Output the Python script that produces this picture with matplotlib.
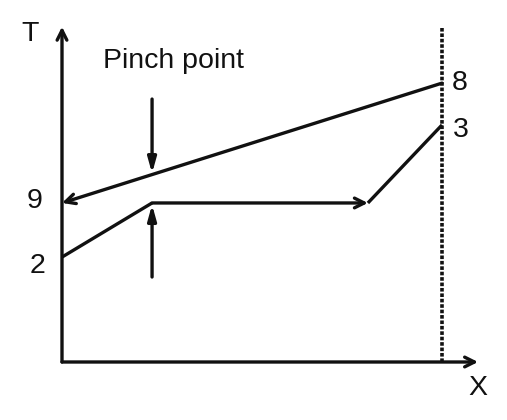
import matplotlib.pyplot as plt

# schematic T-X diagram, x runs 0..1 along the axis, T in arbitrary units
x_hot = [0.0, 1.0]
t_hot = [47.9, 84.0]          # point 9 -> point 8
x_cold = [0.0, 0.237, 0.805, 1.0]
t_cold = [31.6, 47.9, 47.9, 71.4]   # point 2 -> pinch -> arrow end -> point 3
x_pinch = 0.237
pinch_down = (79.2, 56.8)
pinch_up = (25.6, 47.4)

plt.rcParams["font.family"] = ["Liberation Sans", "DejaVu Sans"]
fig = plt.figure(figsize=(5.07, 4.20), dpi=100)
ax = fig.add_axes([0, 0, 1, 1])
ax.set_xlim(-62 / 380, 445 / 380)
ax.set_ylim(-58 * 100 / 332, 362 * 100 / 332)
ax.axis("off")

lw = 2.4
col = "#111111"
fs = 20.5
head = "->,head_length=0.7,head_width=0.35"

# axes with arrows
ax.annotate("", xy=(0, 101), xytext=(0, 0),
            arrowprops=dict(arrowstyle=head, lw=lw, color=col, shrinkA=0, shrinkB=0))
ax.annotate("", xy=(1.095, 0), xytext=(0, 0),
            arrowprops=dict(arrowstyle=head, lw=lw, color=col, shrinkA=0, shrinkB=0))
ax.text(-0.084, 98.8, "T", fontsize=fs, ha="center", va="center", color=col)
ax.text(1.095, -7.8, "X", fontsize=fs, ha="center", va="center", color=col)

# dotted boundary
ax.plot([1, 1], [0, 100.6], color=col, lw=2.6, linestyle=(0, (1, 0.5)),
        dash_capstyle="butt")

# hot stream, arrow toward point 9
ax.annotate("", xy=(x_hot[0], t_hot[0]), xytext=(x_hot[1], t_hot[1]),
            arrowprops=dict(arrowstyle=head, lw=lw, color=col, shrinkA=0, shrinkB=0))

# cold stream
ax.plot(x_cold[:2], t_cold[:2], color=col, lw=lw, solid_capstyle="butt")
ax.annotate("", xy=(x_cold[2], t_cold[2]), xytext=(x_cold[1], t_cold[1]),
            arrowprops=dict(arrowstyle=head, lw=lw, color=col, shrinkA=0, shrinkB=0))
ax.plot(x_cold[2:], t_cold[2:], color=col, lw=lw, solid_capstyle="butt")

# pinch arrows
for start, end in [pinch_down, pinch_up]:
    ax.annotate("", xy=(x_pinch, end), xytext=(x_pinch, start),
                arrowprops=dict(arrowstyle="-|>,head_length=0.9,head_width=0.25", lw=lw,
                                color=col, shrinkA=0, shrinkB=0))
ax.text(0.293, 90.7, "Pinch point", fontsize=fs, ha="center", va="center", color=col)

# point labels
ax.text(-0.071, 48.5, "9", fontsize=fs, ha="center", va="center", color=col)
ax.text(-0.064, 28.8, "2", fontsize=fs, ha="center", va="center", color=col)
ax.text(1.046, 83.9, "8", fontsize=fs, ha="center", va="center", color=col)
ax.text(1.049, 70.0, "3", fontsize=fs, ha="center", va="center", color=col)

fig.savefig("out.png", dpi=100)
